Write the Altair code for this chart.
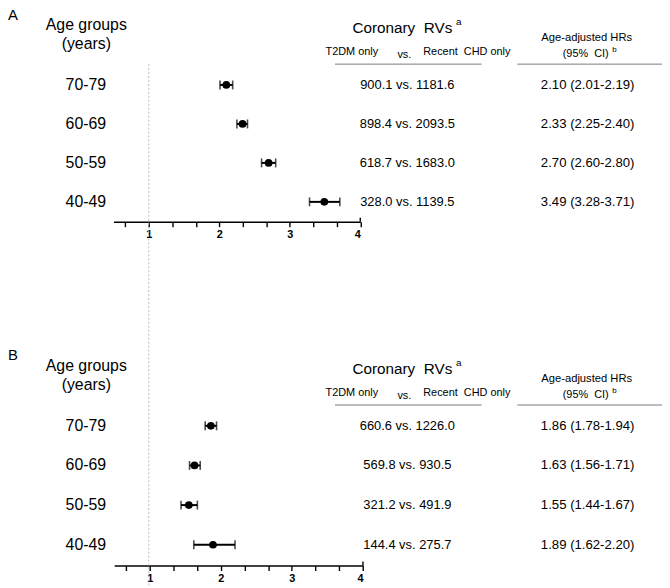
import altair as alt
import pandas as pd

FONT = "Liberation Sans"
NB = "\u00a0"

ages = ["70-79", "60-69", "50-59", "40-49"]

a_hr = [2.10, 2.33, 2.70, 3.49]
a_lo = [2.01, 2.25, 2.60, 3.28]
a_hi = [2.19, 2.40, 2.80, 3.71]
a_t2dm = ["900.1", "898.4", "618.7", "328.0"]
a_chd = ["1181.6", "2093.5", "1683.0", "1139.5"]

b_hr = [1.86, 1.63, 1.55, 1.89]
b_lo = [1.78, 1.56, 1.44, 1.62]
b_hi = [1.94, 1.71, 1.67, 2.20]
b_t2dm = ["660.6", "569.8", "321.2", "144.4"]
b_chd = ["1226.0", "930.5", "491.9", "275.7"]

x_domain = [0.5, 4]
tick_values = [2/3, 1, 4/3, 5/3, 2, 7/3, 8/3, 3, 10/3, 11/3, 4]


def make_df(hr, lo, hi, t2, chd):
    return pd.DataFrame({
        "age": ages,
        "hr": hr,
        "lo": lo,
        "hi": hi,
        "rv": [f"{t} vs. {c}" for t, c in zip(t2, chd)],
        "hrtxt": [f"{h:.2f} ({l:.2f}-{u:.2f})" for h, l, u in zip(hr, lo, hi)],
    })


def txt(s, x, y, size=11, align="center", weight="normal", dy=0):
    return alt.Chart(pd.DataFrame({"t": [s]})).mark_text(
        font=FONT, fontSize=size, align=align, baseline="middle",
        color="black", fontWeight=weight
    ).encode(x=alt.value(x), y=alt.value(y + dy), text="t:N")


def hline(x1, x2, y):
    return alt.Chart(pd.DataFrame({"a": [0]})).mark_rule(
        color="#7a7a7a", strokeWidth=1
    ).encode(x=alt.value(x1), x2=alt.value(x2), y=alt.value(y))


def panel(df, letter, dy, yrange, xrange, axis_offset, axis_y, dotted):
    xs = alt.Scale(domain=x_domain, range=xrange, nice=False, zero=False)
    ax = alt.Axis(
        values=tick_values, title=None, grid=False, offset=axis_offset,
        labelExpr="abs(datum.value - round(datum.value)) < 0.01 ? format(datum.value, 'd') : ''",
        labelFont=FONT, labelFontSize=11, labelFontWeight="bold", labelColor="black",
        domainColor="black", domainWidth=1.6, tickColor="black", tickWidth=1.4,
        tickSize=5, labelPadding=2, orient="bottom",
    )
    ys = alt.Scale(type="point", domain=ages, range=yrange, padding=0)
    base = alt.Chart(df)
    yenc = alt.Y("age:N", scale=ys, axis=None)

    layers = []
    if dotted:
        layers.append(
            alt.Chart(pd.DataFrame({"v": [1]})).mark_rule(
                color="#bdbdbd", strokeDash=[2, 2], strokeWidth=1
            ).encode(x=alt.X("v:Q", scale=xs, axis=ax), y=alt.value(54), y2=alt.value(580))
        )
    layers += [
        alt.Chart(pd.DataFrame({"v": [x_domain[1]]})).mark_rule(
            color="black", strokeWidth=1.4
        ).encode(x=alt.X("v:Q", scale=xs, axis=ax), y=alt.value(axis_y - 4), y2=alt.value(axis_y)),
        base.mark_rule(color="black", strokeWidth=2).encode(
            x=alt.X("lo:Q", scale=xs, axis=ax), x2="hi:Q", y=yenc),
        base.mark_tick(color="black", thickness=1.6, size=9).encode(
            x=alt.X("lo:Q", scale=xs, axis=ax), y=yenc),
        base.mark_tick(color="black", thickness=1.6, size=9).encode(
            x=alt.X("hi:Q", scale=xs, axis=ax), y=yenc),
        base.mark_point(filled=True, shape="circle", size=60, color="black", opacity=1).encode(
            x=alt.X("hr:Q", scale=xs, axis=ax), y=yenc),
        base.mark_text(font=FONT, fontSize=16, align="right", baseline="middle", color="black").encode(
            x=alt.value(99), y=yenc, text="age:N"),
        base.mark_text(font=FONT, fontSize=13, align="center", baseline="middle", color="black").encode(
            x=alt.value(403), y=yenc, text="rv:N"),
        base.mark_text(font=FONT, fontSize=13.3, align="center", baseline="middle", color="black").encode(
            x=alt.value(585), y=yenc, text="hrtxt:N"),
        txt(letter, 0, 4, size=15, align="left", dy=dy),
        txt("Age groups", 79, 15, size=16, dy=dy),
        txt("(years)", 79, 34, size=16, dy=dy),
        txt(f"Coronary{NB}{NB}RVs", 398, 18, size=15.4, dy=dy),
        txt("a", 455, 12, size=10, dy=dy),
        txt("T2DM only", 347, 42, size=11, dy=dy),
        txt("vs.", 400, 45, size=11, dy=dy),
        txt(f"Recent{NB}{NB}CHD only", 463, 42, size=11, dy=dy),
        hline(330, 478, 54 + dy),
        txt("Age-adjusted HRs", 584, 28, size=11.3, dy=dy),
        txt(f"(95%{NB}{NB}CI)", 583, 44, size=11, dy=dy),
        txt("b", 612, 40, size=8, dy=dy),
        hline(514, 660, 54 + dy),
    ]
    return alt.layer(*layers)


dfa = make_df(a_hr, a_lo, a_hi, a_t2dm, a_chd)
dfb = make_df(b_hr, b_lo, b_hi, b_t2dm, b_chd)

pa = panel(dfa, "A", 0, [75, 193], [106.5, 355.5], -347, 213, True)
pb = panel(dfb, "B", 344, [419, 539], [107.2, 358.2], 0, 560, False)

chart = alt.layer(pa, pb).resolve_scale(x="independent", y="independent").resolve_axis(
    x="independent", y="independent"
).properties(
    width=660, height=560,
    autosize=alt.AutoSizeParams(type="none"),
    padding={"left": 0, "top": 0, "right": 0, "bottom": 18},
    background="white",
).configure_view(stroke=None)

chart.save("out.html", embed_options={"renderer": "svg", "actions": False})
